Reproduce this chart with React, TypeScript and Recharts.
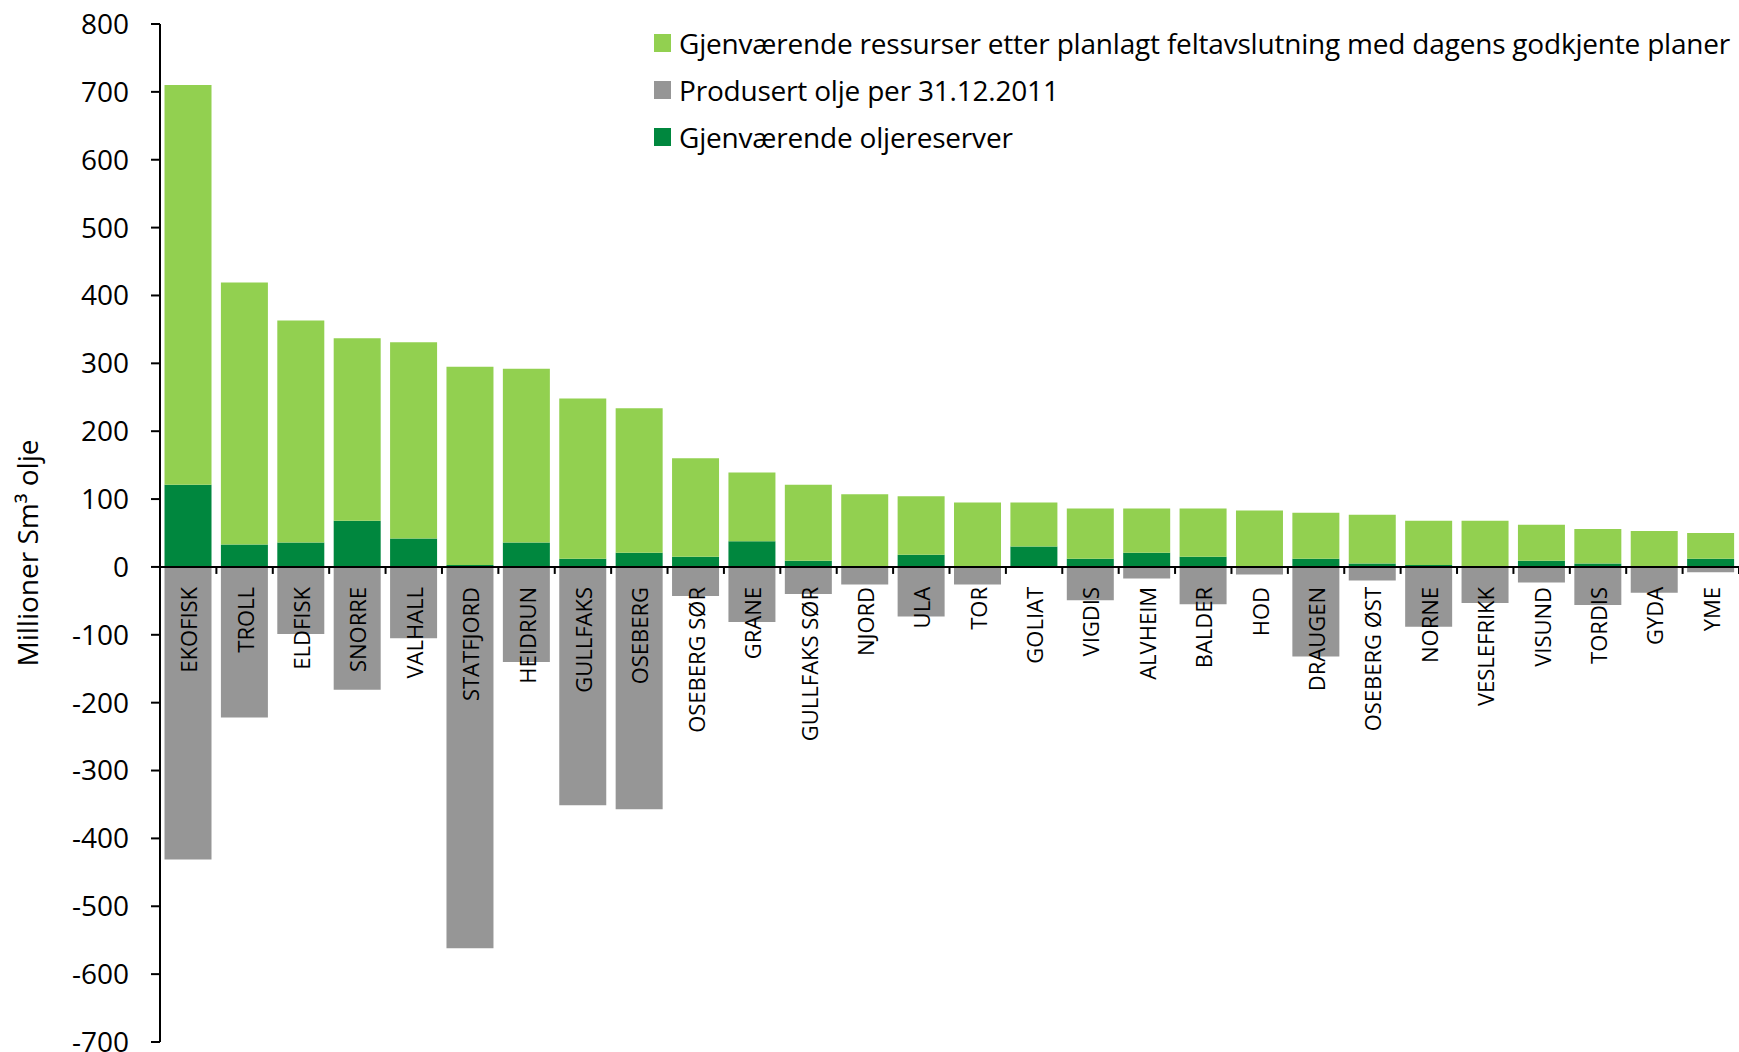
import { Bar, BarChart, Legend, ReferenceDot, ReferenceLine, XAxis, YAxis } from 'recharts';

const fields = [
  'EKOFISK', 'TROLL', 'ELDFISK', 'SNORRE', 'VALHALL', 'STATFJORD', 'HEIDRUN', 'GULLFAKS', 'OSEBERG',
  'OSEBERG SØR', 'GRANE', 'GULLFAKS SØR', 'NJORD', 'ULA', 'TOR', 'GOLIAT', 'VIGDIS', 'ALVHEIM',
  'BALDER', 'HOD', 'DRAUGEN', 'OSEBERG ØST', 'NORNE', 'VESLEFRIKK', 'VISUND', 'TORDIS', 'GYDA', 'YME',
];

// Gjenværende oljereserver (mill. Sm3)
const reserves = [121, 33, 36, 68, 42, 3, 36, 12, 21, 15, 38, 9, 0, 18, 0, 30, 12, 21, 15, 0, 12, 5, 3, 0, 9, 5, 0, 12];

// Gjenværende ressurser etter planlagt feltavslutning
const remaining = [589, 386, 327, 269, 289, 292, 256, 236, 213, 145, 101, 112, 107, 86, 95, 65, 74, 65, 71, 83, 68, 72, 65, 68, 53, 51, 53, 38];

// Produsert olje per 31.12.2011 (negative, below the axis)
const produced = [-431, -222, -99, -181, -105, -562, -140, -351, -357, -43, -81, -40, -26, -73, -26, 0, -49, -17, -55, -11, -132, -20, -88, -53, -23, -56, -38, -8];

const yTicks = [-700, -600, -500, -400, -300, -200, -100, 0, 100, 200, 300, 400, 500, 600, 700, 800];

const LIGHT = '#92d050';
const GREY = '#969696';
const DARK = '#00873e';
const FONT = '"Open Sans", sans-serif';
const GAP = 0.08;

const WIDTH = 1739;
const HEIGHT = 1052;
const Y_AXIS_W = 160;
const BAND = (WIDTH - Y_AXIS_W) / fields.length;

const legendItems = [
  { label: 'Gjenværende ressurser etter planlagt feltavslutning med dagens godkjente planer', color: LIGHT },
  { label: 'Produsert olje per 31.12.2011', color: GREY },
  { label: 'Gjenværende oljereserver', color: DARK },
];

const chartData = fields.map((name, i) => ({
  name,
  reserves: reserves[i],
  remaining: remaining[i],
  produced: produced[i],
}));

// field name hanging under the zero line, plus the divider tick on the band's right edge
function FieldMark({ cx, cy, name }: { cx?: number; cy?: number; name: string }) {
  if (cx == null || cy == null) return null;
  const edge = cx + BAND / 2;
  const ty = cy + 20;
  return (
    <g>
      <line stroke="#000" strokeWidth={2} x1={edge} x2={edge} y1={cy} y2={cy + 7} />
      <text
        dominantBaseline="central"
        fill="#000"
        fontFamily={FONT}
        fontSize={22}
        textAnchor="end"
        transform={`rotate(-90 ${cx} ${ty})`}
        x={cx}
        y={ty}
      >
        {name}
      </text>
    </g>
  );
}

function YTitle(props: any) {
  const vb = props.viewBox ?? { x: 0, y: 0, height: 0 };
  const tx = vb.x + 27;
  const ty = vb.y + vb.height / 2 + 20;
  return (
    <text
      dominantBaseline="central"
      fill="#000"
      fontFamily={FONT}
      fontSize={28}
      textAnchor="middle"
      transform={`rotate(-90 ${tx} ${ty})`}
      x={tx}
      y={ty}
    >
      Millioner Sm³ olje
    </text>
  );
}

function LegendBox() {
  return (
    <div style={{ fontFamily: FONT, fontSize: 28, color: '#000', letterSpacing: -0.2 }}>
      {legendItems.map((item) => (
        <div key={item.label} style={{ display: 'flex', alignItems: 'center', height: 47, whiteSpace: 'nowrap' }}>
          <span style={{ display: 'inline-block', width: 17, height: 18, background: item.color, marginRight: 8 }} />
          <span>{item.label}</span>
        </div>
      ))}
    </div>
  );
}

export default function App() {
  return (
    <div style={{ position: 'absolute', left: 0, top: 0, width: WIDTH, height: HEIGHT, background: '#fff', fontFamily: FONT }}>
      <BarChart
        barCategoryGap={`${GAP * 100}%`}
        data={chartData}
        height={HEIGHT}
        margin={{ top: 24, right: 0, bottom: 10, left: 0 }}
        stackOffset="sign"
        width={WIDTH}
      >
        <XAxis dataKey="name" hide />
        <YAxis
          axisLine={{ stroke: '#000', strokeWidth: 2 }}
          domain={[-700, 800]}
          interval={0}
          label={(p: any) => <YTitle {...p} />}
          tick={{ fontSize: 28, fill: '#000', fontFamily: FONT }}
          tickLine={{ stroke: '#000', strokeWidth: 2 }}
          tickMargin={22}
          tickSize={9}
          ticks={yTicks}
          type="number"
          width={Y_AXIS_W}
        />
        <Legend
          align="center"
          content={() => <LegendBox />}
          layout="vertical"
          verticalAlign="middle"
          wrapperStyle={{ left: 654, top: 19, width: 'auto', height: 'auto' }}
        />
        <Bar dataKey="reserves" fill={DARK} isAnimationActive={false} name="Gjenværende oljereserver" stackId="a" />
        <Bar
          dataKey="remaining"
          fill={LIGHT}
          isAnimationActive={false}
          name="Gjenværende ressurser etter planlagt feltavslutning med dagens godkjente planer"
          stackId="a"
        />
        <Bar dataKey="produced" fill={GREY} isAnimationActive={false} name="Produsert olje per 31.12.2011" stackId="a" />
        <ReferenceLine stroke="#000" strokeWidth={2} y={0} />
        {fields.map((name) => (
          <ReferenceDot
            key={name}
            ifOverflow="visible"
            r={0}
            shape={(p: any) => <FieldMark cx={p.cx} cy={p.cy} name={name} />}
            x={name}
            y={0}
          />
        ))}
      </BarChart>
    </div>
  );
}
